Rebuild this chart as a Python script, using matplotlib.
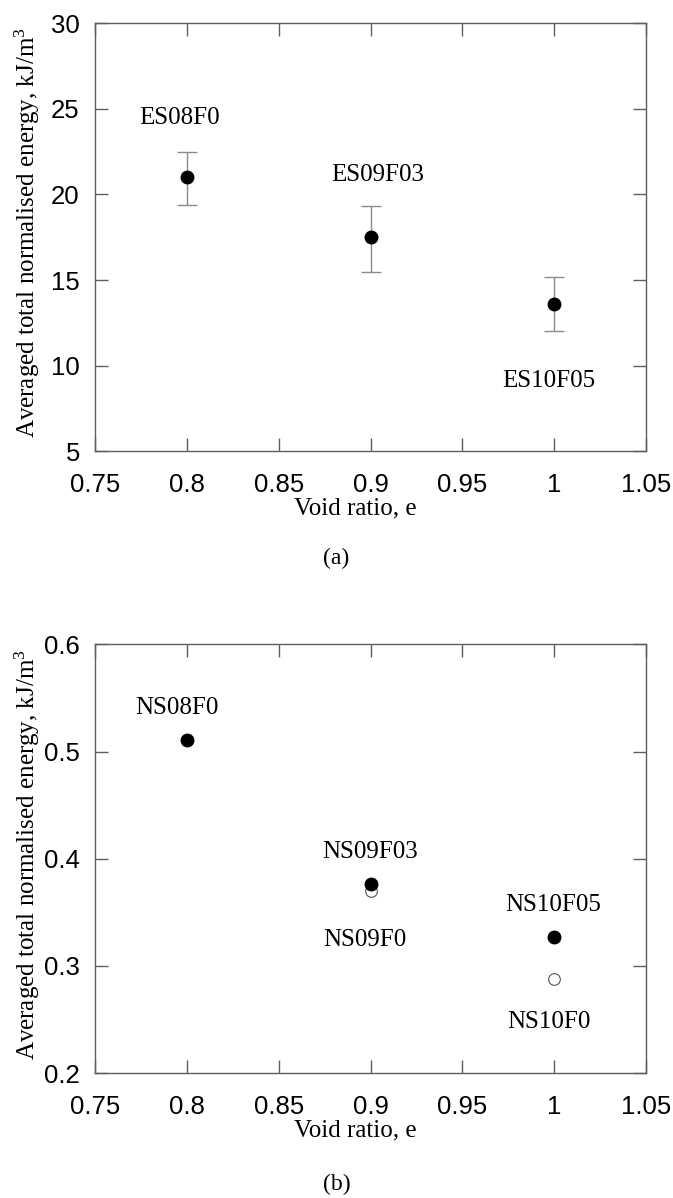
import matplotlib
matplotlib.use("Agg")
import matplotlib.pyplot as plt
from matplotlib.ticker import FormatStrFormatter, FuncFormatter

# ---- data ----
void_ratio = [0.8, 0.9, 1.0]
es_energy = [21.0, 17.5, 13.6]
es_err_low = [19.4, 15.5, 12.0]
es_err_high = [22.5, 19.35, 15.2]
es_names = ["ES08F0", "ES09F03", "ES10F05"]

ns_fines_e = [0.8, 0.9, 1.0]
ns_fines_energy = [0.511, 0.376, 0.327]
ns_fines_names = ["NS08F0", "NS09F03", "NS10F05"]
ns_clean_e = [0.9, 1.0]
ns_clean_energy = [0.370, 0.288]
ns_clean_names = ["NS09F0", "NS10F0"]

x_ticks = [0.75, 0.8, 0.85, 0.9, 0.95, 1.0, 1.05]
es_yticks = [5, 10, 15, 20, 25, 30]
ns_yticks = [0.2, 0.3, 0.4, 0.5, 0.6]

# ---- layout (label anchor positions, data coords) ----
es_label_pos = [(0.796, 24.12), (0.904, 20.79), (0.997, 8.77)]
ns_fines_label_pos = [(0.7943, 0.5351), (0.900, 0.4007), (0.9995, 0.351)]
ns_clean_label_pos = [(0.8966, 0.3184), (0.997, 0.2425)]

plt.rcParams['mathtext.fontset'] = 'custom'
plt.rcParams['mathtext.rm'] = 'Liberation Serif'
plt.rcParams['mathtext.it'] = 'Liberation Serif:italic'

SERIF = 'Liberation Serif'
SANS = 'Liberation Sans'
SPINE = '#5e5e5e'
ERR = '#8c8c8c'

fig = plt.figure(figsize=(6.73, 11.98), dpi=100)
ax1 = fig.add_axes([0.1419, 0.6233, 0.8175, 0.3573])
ax2 = fig.add_axes([0.1419, 0.1043, 0.8175, 0.3578])

fmt = FuncFormatter(lambda v, p: ('%g' % round(v, 4)))

def style(ax, yticks, ylim):
    ax.set_xlim(0.75, 1.05)
    ax.set_ylim(*ylim)
    ax.set_xticks(x_ticks)
    ax.set_yticks(yticks)
    ax.xaxis.set_major_formatter(fmt)
    ax.yaxis.set_major_formatter(fmt)
    for s in ax.spines.values():
        s.set_color(SPINE)
        s.set_linewidth(1.0)
    ax.tick_params(axis='both', which='major', direction='in', length=9.4,
                   width=1.0, color=SPINE, top=True, right=True,
                   labelsize=18.5, labelcolor='black')
    ax.tick_params(axis='x', pad=15.5)
    ax.tick_params(axis='y', pad=11.3)
    for lab in ax.get_xticklabels() + ax.get_yticklabels():
        lab.set_fontfamily(SANS)
    ax.set_xlabel('Void ratio, e', fontsize=18, family=SERIF)
    ax.set_ylabel(r'Averaged total normalised energy, kJ/m$^3$', fontsize=18, family=SERIF)
    ax.xaxis.set_label_coords(0.4716, -0.108)
    ax.yaxis.set_label_coords(-0.097, 0.51)

# ---- panel (a) ----
lower = [m - lo for m, lo in zip(es_energy, es_err_low)]
upper = [hi - m for m, hi in zip(es_energy, es_err_high)]
ax1.errorbar(void_ratio, es_energy, yerr=[lower, upper], fmt='o', color='black',
             ms=9, ecolor=ERR, elinewidth=1.0, capsize=7.2, capthick=1.0,
             markeredgecolor='black', zorder=3)
for name, (lx, ly) in zip(es_names, es_label_pos):
    ax1.text(lx, ly, name, ha='center', va='baseline', fontsize=18, family=SERIF)
style(ax1, es_yticks, (5, 30))

# ---- panel (b) ----
ax2.plot(ns_clean_e, ns_clean_energy, 'o', ms=8.4, markerfacecolor='white',
         markeredgecolor='#555555', markeredgewidth=0.8, zorder=3)
ax2.plot(ns_fines_e, ns_fines_energy, 'o', ms=9, color='black', zorder=4)
for name, (lx, ly) in zip(ns_fines_names, ns_fines_label_pos):
    ax2.text(lx, ly, name, ha='center', va='baseline', fontsize=18, family=SERIF)
for name, (lx, ly) in zip(ns_clean_names, ns_clean_label_pos):
    ax2.text(lx, ly, name, ha='center', va='baseline', fontsize=18, family=SERIF)
style(ax2, ns_yticks, (0.2, 0.6))

fig.text(0.5, 0.534, '(a)', ha='center', va='center', fontsize=17, family=SERIF)
fig.text(0.5, 0.0109, '(b)', ha='center', va='center', fontsize=17, family=SERIF)

fig.savefig('out.png', dpi=100)
